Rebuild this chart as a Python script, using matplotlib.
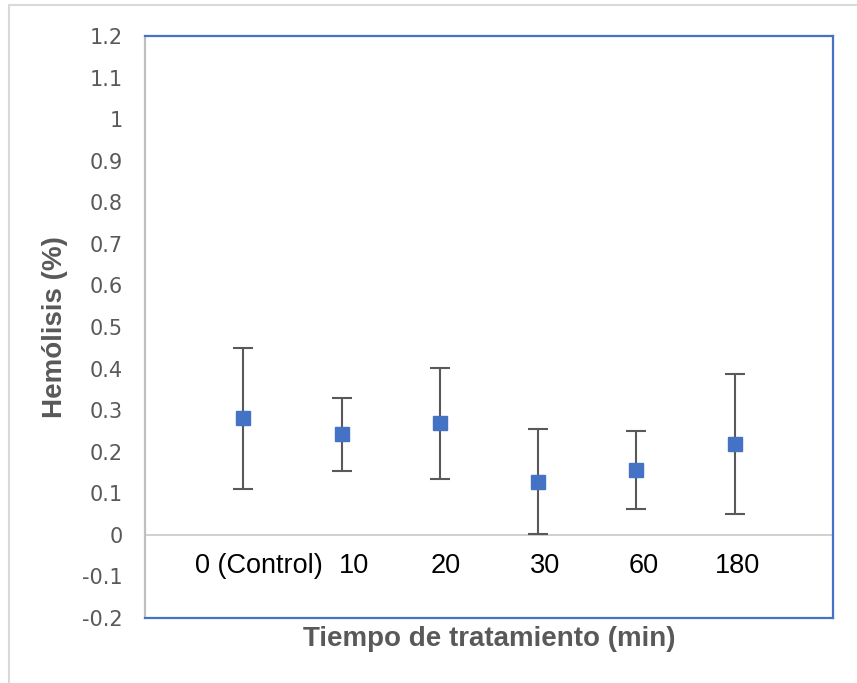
import numpy as np
import matplotlib.pyplot as plt
from matplotlib.patches import Rectangle

# hemolisis media y desviacion por tiempo de tratamiento
tiempos = ['0 (Control)', '10', '20', '30', '60', '180']
hemolisis = [0.28, 0.242, 0.268, 0.128, 0.156, 0.218]
desviacion = [0.169, 0.088, 0.133, 0.126, 0.093, 0.169]

gris = '#595959'
azul = '#4472C4'

fig = plt.figure(figsize=(8.57, 6.83), dpi=100)
ax = fig.add_axes([0.1692, 0.0952, 0.8028, 0.8521])

x = np.arange(1, len(tiempos) + 1)
ax.errorbar(x, hemolisis, yerr=desviacion, fmt='none', ecolor=gris,
            elinewidth=1.5, capsize=7.5, capthick=1.5, zorder=2)
ax.plot(x, hemolisis, 's', color=azul, markersize=9.5, zorder=3)

ax.axhline(0, color='#C8C8C8', lw=1.2, zorder=1)

ax.set_xlim(0, len(tiempos) + 1)
ax.set_ylim(-0.2, 1.2)
yt = np.round(np.arange(-0.2, 1.21, 0.1), 1)
ax.set_yticks(yt)
ax.set_yticklabels([f'{v:g}' for v in yt], fontsize=15, color=gris,
                   family=['DejaVu Sans'])
ax.tick_params(axis='y', length=0, pad=16)
ax.set_xticks([])

# etiquetas de categoria bajo la linea del cero
desplaz = [11, 9, 4, 5, 5, 2]
for xi, lab, dx in zip(x, tiempos, desplaz):
    ax.annotate(lab, (xi, 0), xytext=(dx, -13), textcoords='offset points',
                ha='center', va='top', fontsize=19.5, color='black',
                family='Liberation Sans')

for s in ['top', 'right', 'bottom']:
    ax.spines[s].set_color(azul)
    ax.spines[s].set_linewidth(1.6)
ax.spines['left'].set_color('#BFBFBF')
ax.spines['left'].set_linewidth(1.6)

ax.set_ylabel('Hemólisis (%)', fontsize=20, fontweight='bold', color=gris,
              family='Liberation Sans', labelpad=10)
ax.set_xlabel('Tiempo de tratamiento (min)', fontsize=20, fontweight='bold',
              color=gris, family='Liberation Sans', labelpad=6)

# borde del area del grafico
fig.patches.append(Rectangle((9 / 857, -0.1), 1.2, 1.1 - 5 / 683,
                             transform=fig.transFigure, fill=False,
                             edgecolor='#D9D9D9', lw=1.5))

fig.savefig('out.png', dpi=100)
